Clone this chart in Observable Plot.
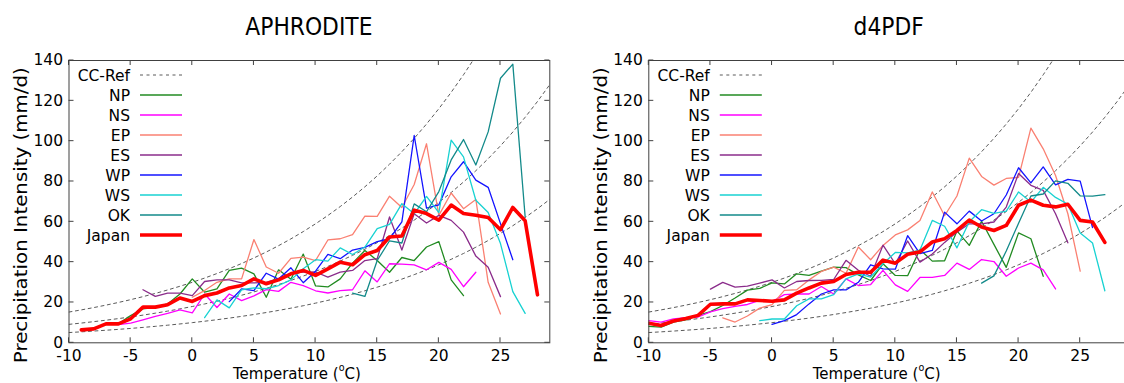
<!DOCTYPE html>
<html><head><meta charset="utf-8">
<script src="https://cdn.jsdelivr.net/npm/d3@7"></script>
<script src="https://cdn.jsdelivr.net/npm/@observablehq/plot@0.6"></script>
<style>
html,body{margin:0;padding:0;background:#fff;}
#wrap{position:relative;width:1124px;height:383px;overflow:hidden;font-family:"DejaVu Sans",sans-serif;}
#wrap svg{position:absolute;top:0;}
</style></head><body><div id="wrap"></div>
<script>
// ---------- shared categories / ticks ----------
const xTicks = [-10, -5, 0, 5, 10, 15, 20, 25];
const yTicks = [0, 20, 40, 60, 80, 100, 120, 140];
const regions = ["NP", "NS", "EP", "ES", "WP", "WS", "OK", "Japan"];
const regionColors = ["#228B22", "#FF00FF", "#FA8072", "#8B2C8B", "#1414FF", "#18D2D2", "#138A8A", "#FF0000"];

// ---------- CC-Ref curves (values read at 1 °C steps) ----------
const ccRefT = [-10,-9,-8,-7,-6,-5,-4,-3,-2,-1,0,1,2,3,4,5,6,7,8,9,10,11,12,13,14,15,16,17,18,19,20,21,22,23,24,25,26,27,28,29];
const ccRefLow = [5.08,5.44,5.82,6.23,6.66,7.13,7.63,8.16,8.73,9.35,10,10.7,11.45,12.25,13.11,14.03,15.01,16.06,17.18,18.38,19.67,21.05,22.52,24.1,25.79,27.59,29.52,31.59,33.8,36.17,38.7,41.41,44.3,47.4,50.72,54.27,58.07,62.14,66.49,71.14];
const ccRefMid = [9.15,9.79,10.48,11.21,11.99,12.83,13.73,14.69,15.72,16.82,18,19.26,20.61,22.05,23.59,25.25,27.01,28.9,30.93,33.09,35.41,37.89,40.54,43.38,46.41,49.66,53.14,56.86,60.84,65.1,69.66,74.53,79.75,85.33,91.3,97.69,104.53,111.85,119.68,128.06];
const ccRefHigh = [15.25,16.32,17.46,18.68,19.99,21.39,22.89,24.49,26.2,28.04,30,32.1,34.35,36.75,39.32,42.08,45.02,48.17,51.54,55.15,59.02,63.15,67.57,72.3,77.36,82.77,88.57,94.77,101.4,108.5,116.1,124.22,132.92,142.22,152.18,null,null,null,null,null];

// ---------- APHRODITE (first temperature of each series, then values per 1 °C) ----------
const aphroStarts = [-6, -6, 0, -4, 3, 1, 13, -9];
const aphroNP = [9.4,13.5,16.8,17.6,19.3,24.2,31.7,25.1,26.7,35.9,37.0,34.2,22.6,36.2,31.5,44.0,28.2,27.7,31.7,39.5,45.8,40.8,35.0,42.3,40.8,47.5,50.2,31.2,23.4];
const aphroNS = [9.0,9.8,11.4,13.1,14.6,16.3,14.8,24.2,17.5,24.2,20.9,23.3,26.4,25.5,30.0,28.4,25.8,24.7,25.9,26.3,35.7,30.2,39.2,39.0,38.6,36.2,39.9,36.4,27.8,35.0];
const aphroEP = [22.6,25.9,30.0,31.7,31.7,51.2,37.6,34.5,41.9,42.5,40.8,51.0,51.6,53.7,62.8,62.7,72.7,67.1,78.5,98.7,63.2,74.3,66.5,71.1,30.0,14.3];
const aphroES = [26.3,23.0,24.6,24.6,23.4,30.4,31.2,31.2,29.7,29.7,30.0,32.0,34.5,35.0,35.1,32.6,35.0,35.9,40.8,41.7,62.4,46.0,64.0,59.4,63.2,60.7,54.9,43.0,37.5,22.9];
const aphroWP = [20.4,26.7,25.9,34.5,31.6,37.2,29.8,35.5,43.8,41.7,46.0,47.3,50.2,51.6,60.0,102.8,66.8,68.4,82.3,89.8,80.7,77.1,59.1,41.2];
const aphroWS = [12.5,21.3,17.3,26.3,27.2,26.8,28.4,31.2,36.7,41.2,40.5,47.1,43.8,47.5,56.6,58.7,69.0,64.0,72.6,64.6,100.5,92.2,70.7,64.6,49.2,25.4,14.6];
const aphroOK = [24.6,23.0,40.8,50.6,49.5,68.9,65.0,75.0,90.7,100.8,88.2,104.6,131.2,138.2,62.5];
const aphroJapan = [6.4,6.9,9.4,9.4,11.9,17.7,17.7,18.9,22.2,20.5,23.4,24.7,27.2,28.4,31.7,29.3,31.2,34.2,35.9,33.4,36.7,40.0,38.7,43.7,45.8,52.5,53.0,65.8,64.1,60.8,68.3,64.1,63.3,62.1,56.1,67.1,60.5,23.8];

// ---------- d4PDF ----------
const d4Starts = [-10, -10, -4, -5, 0, -1, 17, -10];
const d4NP = [8.1,7.8,10.3,11.4,13.6,15.5,18.5,22.2,26.1,27.0,29.7,29.2,34.2,33.4,35.5,37.5,37.3,33.7,30.9,39.2,33.4,33.3,46.3,40.5,40.7,55.5,48.3,60.3,48.8,37.4,54.5,51.6,33.0];
const d4NS = [11.0,10.3,11.9,12.5,12.8,15.3,16.9,18.1,19.0,21.0,20.5,23.9,24.2,24.2,27.9,24.2,31.7,28.4,28.9,35.9,28.7,25.5,32.4,32.4,33.4,39.5,36.4,41.3,40.3,33.0,37.1,39.5,36.2,26.7];
const d4EP = [12.4,10.3,13.3,17.2,18.9,26.0,26.3,31.2,35.4,37.5,34.5,47.5,41.2,48.3,53.5,56.0,60.7,74.8,63.0,72.8,91.6,82.5,78.2,81.5,82.0,106.5,96.2,83.0,64.0,35.5];
const d4ES = [26.6,30.0,27.6,28.1,29.6,31.2,27.2,30.4,30.9,31.0,31.4,40.9,36.0,33.0,48.4,39.2,50.5,40.0,44.0,49.8,54.9,59.0,59.0,59.9,67.3,84.0,78.1,75.6,64.0,49.6];
const d4WP = [9.1,11.0,14.0,19.3,24.2,26.2,26.2,30.0,38.7,36.7,36.5,53.1,44.2,45.8,64.8,59.0,65.3,60.4,64.0,73.3,86.8,79.3,87.2,78.3,81.0,80.2,57.1];
const d4WS = [11.0,11.8,11.8,18.4,21.8,21.8,23.9,31.7,34.2,32.6,39.2,44.8,44.6,46.0,60.7,57.8,47.1,60.0,66.0,64.2,65.3,74.8,69.8,77.1,72.1,68.7,54.5,49.5,25.8];
const d4OK = [29.6,33.2,45.5,59.3,72.8,73.8,80.3,79.1,72.9,72.7,73.5];
const d4Japan = [9.7,8.6,10.8,12.0,13.6,19.1,19.3,19.3,21.3,21.0,20.6,21.3,24.6,27.2,29.6,30.4,33.9,35.0,35.0,41.0,39.5,43.9,45.1,50.0,51.6,55.7,60.9,57.4,55.7,58.2,68.2,70.8,68.2,67.4,68.7,60.7,59.9,49.8];

const FONT = "DejaVu Sans";
const frameColor = "#404040";

function panel({title, left, width, marginLeft, marginRight, series, starts}) {
  const rows = [];
  regions.forEach((r, k) => series[k].forEach((v, i) => rows.push({t: starts[k] + i, v, region: r})));
  const ccRows = [];
  [ccRefLow, ccRefMid, ccRefHigh].forEach((arr, k) => arr.forEach((v, i) => { if (v != null) ccRows.push({t: ccRefT[i], v, curve: k}); }));

  const chart = Plot.plot({
    width, height: 383,
    marginLeft, marginRight, marginTop: 60, marginBottom: 40.7,
    style: {fontFamily: FONT, fontSize: "15.5px", color: "#000", background: "transparent", overflow: "visible"},
    x: {domain: [-10, 29], label: null},
    y: {domain: [0, 140], label: null},
    marks: [
      Plot.line(ccRows, {x: "t", y: "v", z: "curve", stroke: "#5a5a5a", strokeWidth: 1, strokeDasharray: "3,3.5", clip: true}),
      ...regions.map((r, k) => Plot.line(rows.filter(d => d.region === r), {
        x: "t", y: "v", stroke: regionColors[k], strokeWidth: r === "Japan" ? 3.6 : 1.3, clip: true
      })),
      Plot.frame({stroke: frameColor, strokeWidth: 1}),
      Plot.axisX({ticks: xTicks, tickSize: 0, tickPadding: 7, tickFormat: d => String(d), label: null, fontSize: 15.5}),
      Plot.axisY({ticks: yTicks, tickSize: 0, tickPadding: 6, tickFormat: d => String(d), label: null, fontSize: 15.5})
    ]
  });
  chart.style.left = left + "px";
  document.getElementById("wrap").appendChild(chart);

  const sx = chart.scale("x"), sy = chart.scale("y");
  const svg = d3.select(chart);
  const X0 = sx.apply(-10), X1 = sx.apply(29), Y0 = sy.apply(0), Y1 = sy.apply(140);
  const tg = svg.append("g").attr("stroke", frameColor).attr("stroke-width", 1);
  xTicks.forEach(t => {
    const x = sx.apply(t);
    tg.append("line").attr("x1", x).attr("x2", x).attr("y1", Y0).attr("y2", Y0 - 5);
    tg.append("line").attr("x1", x).attr("x2", x).attr("y1", Y1).attr("y2", Y1 + 5);
  });
  yTicks.forEach(v => {
    const y = sy.apply(v);
    tg.append("line").attr("x1", X0).attr("x2", X0 + 5).attr("y1", y).attr("y2", y);
    tg.append("line").attr("x1", X1).attr("x2", X1 - 5).attr("y1", y).attr("y2", y);
  });

  // title (glyphs slightly narrowed, as in the reference)
  svg.append("text").attr("transform", `translate(${(X0 + X1) / 2},35) scale(0.89,1)`).attr("text-anchor", "middle")
    .attr("font-family", FONT).attr("font-size", 24.5)
    .text(title);
  // x label
  const xl = svg.append("text").attr("transform", `translate(${(X0 + X1) / 2 - 12},378.8) scale(0.91,1)`).attr("text-anchor", "middle")
    .attr("font-family", FONT).attr("font-size", 16.5);
  xl.append("tspan").text("Temperature (");
  xl.append("tspan").attr("font-size", 10.5).attr("dy", -7.5).text("o");
  xl.append("tspan").attr("dy", 7.5).text("C)");
  // y label
  svg.append("text").attr("transform", `translate(${X0 - 48},${(Y0 + Y1) / 2 + 14}) rotate(-90)`)
    .attr("text-anchor", "middle").attr("dy", "0.36em")
    .attr("font-family", FONT).attr("font-size", 18).attr("textLength", 296).attr("lengthAdjust", "spacingAndGlyphs")
    .text("Precipitation Intensity (mm/d)");

  // legend
  const lg = svg.append("g").attr("font-family", FONT).attr("font-size", 15.5);
  const items = [{name: "CC-Ref", color: "#5a5a5a", dash: "3,3.5", w: 1}]
    .concat(regions.map((r, k) => ({name: r, color: regionColors[k], dash: null, w: r === "Japan" ? 3.6 : 1.3})));
  items.forEach((it, i) => {
    const y = 75 + 20 * i;
    lg.append("text").attr("x", X0 + 61.5).attr("y", y).attr("dy", "0.36em").attr("text-anchor", "end").text(it.name);
    const ln = lg.append("line").attr("x1", X0 + 71.5).attr("x2", X0 + 113.5).attr("y1", y).attr("y2", y)
      .attr("stroke", it.color).attr("stroke-width", it.w);
    if (it.dash) ln.attr("stroke-dasharray", it.dash);
  });
}

panel({title: "APHRODITE", left: 0, width: 560, marginLeft: 68.5, marginRight: 10.7,
  series: [aphroNP, aphroNS, aphroEP, aphroES, aphroWP, aphroWS, aphroOK, aphroJapan], starts: aphroStarts});
panel({title: "d4PDF", left: 560, width: 580, marginLeft: 88.3, marginRight: 11,
  series: [d4NP, d4NS, d4EP, d4ES, d4WP, d4WS, d4OK, d4Japan], starts: d4Starts});
</script></body></html>
